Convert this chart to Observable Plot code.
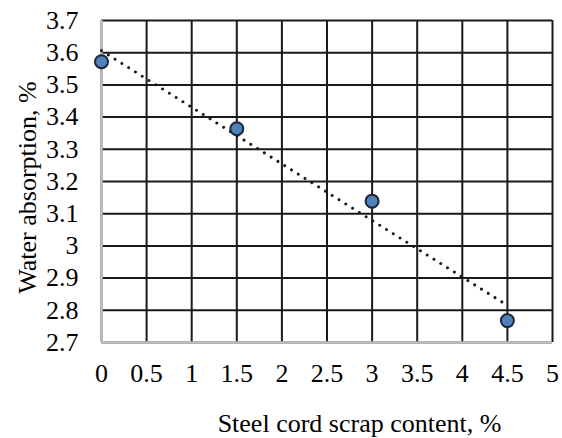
<!DOCTYPE html>
<html>
<head>
<meta charset="utf-8">
<script src="https://cdn.jsdelivr.net/npm/d3@7"></script>
<script src="https://cdn.jsdelivr.net/npm/@observablehq/plot@0.6"></script>
<style>
  html, body { margin: 0; padding: 0; background: #fff; }
  #chart svg, #chart svg text { font-family: "Liberation Serif", "Times New Roman", serif; }
</style>
</head>
<body>
<div id="chart"></div>
<script>
const scrapContent = [0, 1.5, 3, 4.5];
const waterAbsorption = [3.572, 3.364, 3.139, 2.768];
const xTicks = [0, 0.5, 1, 1.5, 2, 2.5, 3, 3.5, 4, 4.5, 5];
const yTicks = [2.7, 2.8, 2.9, 3.0, 3.1, 3.2, 3.3, 3.4, 3.5, 3.6, 3.7];
const xTitle = "Steel cord scrap content, %";
const yTitle = "Water absorption, %";

const data = scrapContent.map((x, i) => ({x, y: waterAbsorption[i]}));
const fmt = d => String(+d.toFixed(1));
const FONT = "Liberation Serif";

const chart = Plot.plot({
  width: 562,
  height: 438,
  marginLeft: 101,
  marginRight: 10,
  marginTop: 20,
  marginBottom: 96,
  style: {fontSize: "26px", color: "black", background: "white"},
  x: {domain: [0, 5], ticks: xTicks, label: null},
  y: {domain: [2.7, 3.7], ticks: yTicks, label: null},
  marks: [
    Plot.gridX(xTicks, {stroke: "#1a1a1a", strokeOpacity: 1, strokeWidth: 2}),
    Plot.gridY(yTicks, {stroke: "#1a1a1a", strokeOpacity: 1, strokeWidth: 2}),
    Plot.ruleX([0], {stroke: "#bfbfbf", strokeWidth: 2.5}),
    Plot.ruleY([2.7], {stroke: "#bfbfbf", strokeWidth: 2.5}),
    Plot.axisX(xTicks, {tickSize: 0, tickPadding: 21, tickFormat: fmt, fontSize: 26, fontFamily: FONT, label: null}),
    Plot.axisY(yTicks, {tickSize: 0, tickPadding: 23, tickFormat: fmt, fontSize: 26, fontFamily: FONT, label: null}),
    Plot.linearRegressionY(data, {x: "x", y: "y", ci: 0, stroke: "#1a1a1a", strokeWidth: 3,
      strokeDasharray: "0.01,8", strokeLinecap: "round"}),
    Plot.dot(data, {x: "x", y: "y", r: 6.5, fill: "#4f81bd", stroke: "#1c2636", strokeWidth: 2}),
    Plot.text([xTitle], {frameAnchor: "bottom", textAnchor: "middle", lineAnchor: "middle",
      dx: 32.5, dy: 80.7, fontSize: 26, fontFamily: FONT, fill: "black"}),
    Plot.text([yTitle], {frameAnchor: "left", textAnchor: "middle", lineAnchor: "middle", rotate: -90,
      dx: -74.3, dy: 6, fontSize: 26, fontFamily: FONT, fill: "black"})
  ]
});
document.getElementById("chart").appendChild(chart);
</script>
</body>
</html>
